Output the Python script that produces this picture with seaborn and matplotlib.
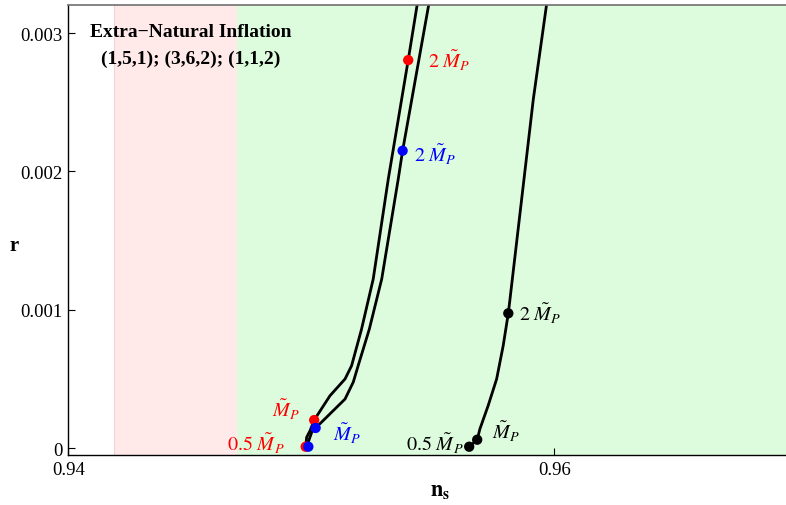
import numpy as np
import pandas as pd
import matplotlib
matplotlib.use("Agg")
import matplotlib.pyplot as plt
import seaborn as sns


# curve traced through the red points
red_ns = [0.94977, 0.94981, 0.94995, 0.95012, 0.95077, 0.95139, 0.95166,
          0.95207, 0.95255, 0.95317, 0.95399, 0.95440]
red_r = [0.0000094, 0.0000774, 0.000125, 0.000202, 0.000378, 0.000499, 0.000595,
         0.000860, 0.001222, 0.001945, 0.002805, 0.003250]

# curve traced through the blue points
blue_ns = [0.94982, 0.94992, 0.95002, 0.95018, 0.95139, 0.95173, 0.95193,
           0.95239, 0.95290, 0.95358, 0.95376, 0.95488]
blue_r = [0.0000094, 0.000065, 0.000114, 0.000145, 0.000354, 0.000477, 0.000595,
          0.000860, 0.001222, 0.001945, 0.002150, 0.003250]

# curve traced through the black points
black_ns = [0.95650, 0.95683, 0.95694, 0.95728, 0.95763, 0.95790, 0.95811,
            0.95818, 0.95866, 0.95914, 0.95972]
black_r = [0.0000094, 0.000060, 0.000137, 0.000306, 0.000499, 0.000740, 0.000974,
           0.001077, 0.001800, 0.002523, 0.003250]

# marked points: 0.5 M_P, M_P, 2 M_P
red_pt_ns = [0.94977, 0.95012, 0.95399]
red_pt_r = [0.0000094, 0.000202, 0.002805]
blue_pt_ns = [0.94988, 0.95018, 0.95376]
blue_pt_r = [0.0000094, 0.000145, 0.002150]
black_pt_ns = [0.95650, 0.95683, 0.95811]
black_pt_r = [0.0000094, 0.000060, 0.000974]

pt_labels = [r"$0.5\ \tilde{M}_P$", r"$\tilde{M}_P$", r"$2\ \tilde{M}_P$"]

# shaded bands in n_s
pink_band = (0.94190, 0.94693)
green_band = (0.94693, 0.98)

sns.set_style("ticks")
plt.rcParams["font.family"] = ["Liberation Serif", "DejaVu Serif"]
plt.rcParams["mathtext.fontset"] = "stix"
for key in ["text.color", "axes.labelcolor", "xtick.color", "ytick.color"]:
    plt.rcParams[key] = "black"

fig = plt.figure(figsize=(7.86, 5.06), dpi=100)
ax = fig.add_axes([0.0869, 0.0988, 0.9131, 0.8903])

ax.axvspan(*pink_band, color="#ffe9e9", zorder=0, lw=0)
ax.axvline(pink_band[0], color="#f7d0d0", lw=0.8, zorder=0)
ax.axvspan(*green_band, color="#ddfcdd", zorder=0, lw=0)

curves = pd.concat([
    pd.DataFrame({"ns": red_ns, "r": red_r, "curve": "a"}),
    pd.DataFrame({"ns": blue_ns, "r": blue_r, "curve": "b"}),
    pd.DataFrame({"ns": black_ns, "r": black_r, "curve": "c"}),
])
sns.lineplot(data=curves, x="ns", y="r", units="curve", estimator=None, sort=False,
             color="black", lw=2.0, ax=ax, legend=False,
             solid_joinstyle="round", solid_capstyle="round")

pts = [(red_pt_ns, red_pt_r, "#ff0000"),
       (blue_pt_ns, blue_pt_r, "#0000ff"),
       (black_pt_ns, black_pt_r, "black")]
for xs, ys, c in pts:
    sns.scatterplot(x=xs, y=ys, color=c, s=55, edgecolor="none", ax=ax, zorder=5,
                    legend=False)

# label offsets in pixels from each dot
red_off = [(-21, 4, "right"), (-14, 11, "right"), (20, 0, "left")]
blue_off = [None, (17, -5, "left"), (11, -3, "left")]
black_off = [(-6, 4, "right"), (15, 9, "left"), (11, 0, "left")]
for (xs, ys, c), offs in zip(pts, [red_off, blue_off, black_off]):
    for x, y, lab, off in zip(xs, ys, pt_labels, offs):
        if off is None:
            continue
        ax.annotate(lab, (x, y), xytext=off[:2], textcoords="offset pixels",
                    ha=off[2], va="center", color=c, fontsize=14.5)

ax.text(0.171, 0.940, "Extra\u2212Natural Inflation", transform=ax.transAxes,
        ha="center", va="center", fontsize=14, fontweight="bold")
ax.text(0.171, 0.880, "(1,5,1); (3,6,2); (1,1,2)", transform=ax.transAxes,
        ha="center", va="center", fontsize=14, fontweight="bold")

ax.set_xlim(0.94, 0.96954)
ax.set_ylim(-0.0000506, 0.003207)
ax.set_xticks([0.94, 0.96])
ax.set_xticklabels(["0.94", "0.96"])
ax.set_yticks([0, 0.001, 0.002, 0.003])
ax.set_yticklabels(["0", "0.001", "0.002", "0.003"])
ax.tick_params(direction="in", length=5, width=0.8, labelsize=13.5, pad=4,
               color="black", labelcolor="black")
ax.set_xlabel(r"$\mathbf{n_s}$", fontsize=16, va="center")
ax.xaxis.set_label_coords(0.518, -0.082)
ax.set_ylabel("r", fontsize=15, fontweight="bold", rotation=0, va="center",
              ha="center")
ax.yaxis.set_label_coords(-0.0757, 0.466)

for side in ["left", "bottom"]:
    ax.spines[side].set_color("black")
    ax.spines[side].set_linewidth(1.0)
ax.spines["top"].set_color("#707070")
ax.spines["top"].set_linewidth(1.2)
ax.spines["right"].set_visible(False)

fig.savefig("out.png", dpi=100)
